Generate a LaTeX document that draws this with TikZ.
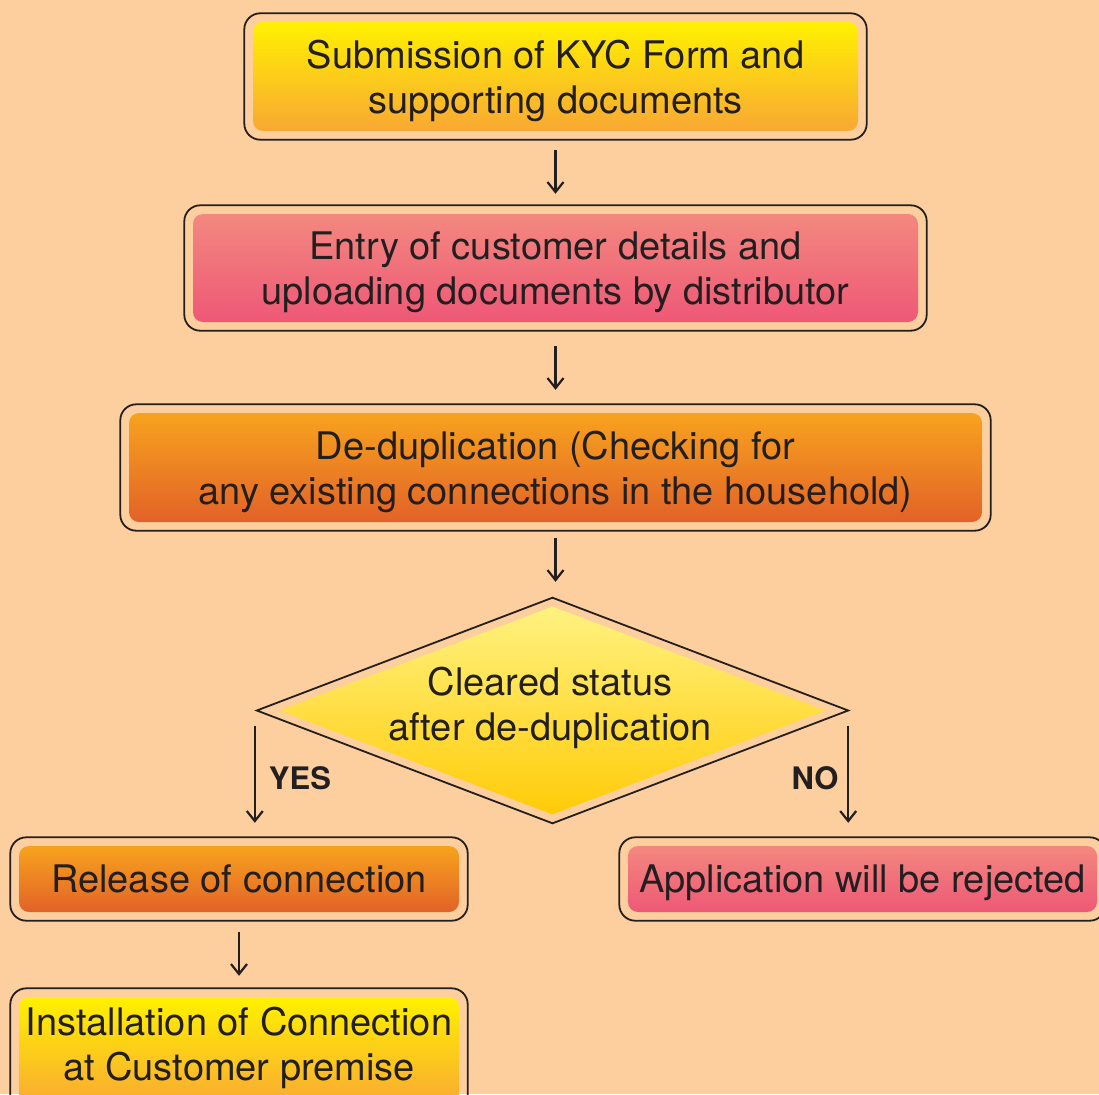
\documentclass[tikz,border=0pt]{standalone}
\usepackage{fontspec}
\setmainfont{TeX Gyre Heros}
\usetikzlibrary{shapes.geometric,arrows.meta}
\definecolor{bg}{RGB}{253,207,158}
\definecolor{ink}{RGB}{35,31,32}
\definecolor{yelT}{RGB}{255,241,0}
\definecolor{yelB}{RGB}{249,168,52}
\definecolor{pinkT}{RGB}{243,136,127}
\definecolor{pinkB}{RGB}{238,88,118}
\definecolor{orT}{RGB}{247,163,30}
\definecolor{orB}{RGB}{226,98,40}
\definecolor{diaT}{RGB}{255,242,128}
\definecolor{diaB}{RGB}{255,203,8}
\begin{document}
\begin{tikzpicture}[x=1pt,y=-1pt,
  inbox/.style={rounded corners=10pt, inner sep=0pt, align=center, text=ink, text depth=0pt,
    font=\fontsize{38}{45}\selectfont},
  txt/.style={inner sep=0pt, align=center, text=ink, text depth=0pt, font=\fontsize{38}{45}\selectfont},
  yel/.style={top color=yelT, bottom color=yelB},
  pnk/.style={top color=pinkT, bottom color=pinkB},
  orn/.style={top color=orT, bottom color=orB},
  frame/.style={draw=ink, line width=1.8pt, rounded corners=16pt},
  arr/.style={draw=ink, line width=2.2pt, -{Straight Barb[length=10pt,width=16pt,line width=2.2pt]}},
  lab/.style={inner sep=0pt, text=ink, font=\fontsize{31}{36}\selectfont\bfseries}]
\fill[bg] (0,0) rectangle (1099,1094);
\useasboundingbox (0,0) rectangle (1099,1094);
\clip (0,0) rectangle (1099,1094);

% boxes (inner shaded parts)
\node[inbox, yel, minimum width=605pt, minimum height=109pt] (b1) at (555.5,76.5)
  {Submission of KYC Form and\\supporting documents};
\node[inbox, pnk, minimum width=725pt, minimum height=108pt] (b2) at (555.5,268)
  {Entry of customer details and\\uploading documents by distributor};
\node[inbox, orn, minimum width=853pt, minimum height=109pt] (b3) at (555.5,467.5)
  {De-duplication (Checking for\\any existing connections in the household)};
\node[inbox, orn, minimum width=440pt, minimum height=66pt] (b4) at (239,879)
  {Release of connection};
\node[inbox, yel, minimum width=440pt, minimum height=110pt] (b5) at (239,1052) {};
\node[txt] (b5t) at (239,1044) {Installation of Connection\\at Customer premise};
\node[inbox, pnk, minimum width=469pt, minimum height=66pt] (b6) at (862.5,879)
  {Application will be rejected};

% outer frames
\foreach \b in {b1,b2,b3,b4,b5,b6}{
  \draw[frame] ([shift={(-8.5,-8.5)}]\b.north west) rectangle ([shift={(8.5,8.5)}]\b.south east);
}

% decision diamond
\node[diamond, inner sep=0pt, minimum width=546pt, minimum height=208pt,
  top color=diaT, bottom color=diaB] (dia) at (552.5,710.5) {};
\node[txt] (diat) at (550,703.5) {Cleared status\\after de-duplication};
\coordinate (dt) at ([yshift=8.6pt]dia.north);
\coordinate (dr) at ([xshift=22.5pt]dia.east);
\coordinate (db) at ([yshift=-8.6pt]dia.south);
\coordinate (dl) at ([xshift=-22.5pt]dia.west);
\draw[draw=ink, line width=1.8pt, line join=miter] (dt) -- (dr) -- (db) -- (dl) -- cycle;

% connectors
\draw[arr, shorten <=19pt, shorten >=20pt] (b1.south) -- (b2.north);
\draw[arr, shorten <=24pt, shorten >=23pt] (b2.south) -- (b3.north);
\draw[arr, shorten <=16pt, shorten >=24.5pt] (b3.south) -- (b3.south |- dia.north);
\draw[arr, shorten <=15pt, shorten >=23pt] ([xshift=-2pt]dl) -- ([xshift=-2pt]dl |- b4.north);
\draw[arr, shorten <=15pt, shorten >=23pt] (dr) -- (dr |- b6.north);
\draw[arr, shorten <=20pt, shorten >=21pt] (b4.south) -- (b5.north);

% labels
\node[lab] (yes) at (300,778) {YES};
\node[lab] (no) at (815,778) {NO};
\end{tikzpicture}
\end{document}
